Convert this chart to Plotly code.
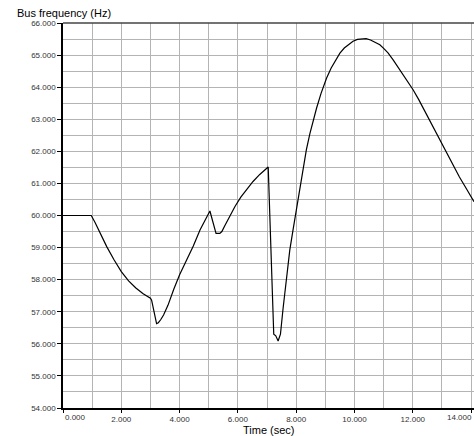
import plotly.graph_objects as go

# Simulated bus frequency response
time_s = [0.0, 0.97, 1.1, 1.25, 1.5, 1.75, 2.0, 2.25, 2.5, 2.75, 3.0, 3.04, 3.21,
          3.27, 3.35, 3.45, 3.6, 3.8, 4.0, 4.47, 4.7, 5.04, 5.25, 5.38, 5.45, 5.55,
          5.7, 5.9, 6.1, 6.3, 6.52, 6.75, 7.04, 7.23, 7.3, 7.38, 7.46, 7.55, 7.65,
          7.78, 7.9, 8.0, 8.12, 8.23, 8.35, 8.47, 8.58, 8.7, 8.85, 9.04, 9.2, 9.35,
          9.5, 9.65, 9.8, 9.95, 10.1, 10.25, 10.4, 10.55, 10.7, 10.87, 11.0, 11.15,
          11.32, 11.5, 11.65, 11.83, 12.01, 12.2, 12.35, 12.5, 12.7, 12.9, 13.15,
          13.4, 13.6, 13.85, 14.07, 14.1]
freq_hz = [60.0, 60.0, 59.78, 59.5, 59.03, 58.62, 58.25, 57.96, 57.74, 57.56, 57.42,
           57.36, 56.63, 56.66, 56.75, 56.9, 57.2, 57.7, 58.15, 59.05, 59.55, 60.14,
           59.44, 59.44, 59.5, 59.68, 59.95, 60.28, 60.57, 60.82, 61.06, 61.28, 61.51,
           56.3, 56.25, 56.09, 56.3, 57.1, 57.9, 58.92, 59.6, 60.15, 60.8, 61.45,
           62.05, 62.55, 62.98, 63.35, 63.8, 64.28, 64.6, 64.85, 65.06, 65.22, 65.34,
           65.43, 65.49, 65.51, 65.51, 65.47, 65.41, 65.32, 65.21, 65.07, 64.86,
           64.62, 64.42, 64.18, 63.92, 63.62, 63.36, 63.11, 62.77, 62.41, 61.94,
           61.52, 61.2, 60.82, 60.48, 60.43]

x_ticks = [0, 2, 4, 6, 8, 10, 12, 14]
y_ticks = [54, 55, 56, 57, 58, 59, 60, 61, 62, 63, 64, 65, 66]

FONT = "Liberation Sans, Arial, sans-serif"
GRID = "#b4b4b4"

fig = go.Figure()
fig.add_trace(go.Scatter(x=time_s, y=freq_hz, mode="lines",
                         line=dict(color="black", width=1.2), hoverinfo="skip"))

# end labels are placed as annotations so they sit inside the axis span
x_text = ["" if v in (x_ticks[0], x_ticks[-1]) else f"{v:.3f}" for v in x_ticks]

fig.update_layout(
    width=474, height=436,
    margin=dict(l=63, r=0, t=23, b=28),
    paper_bgcolor="white", plot_bgcolor="white",
    showlegend=False,
    font=dict(family=FONT, size=8, color="#333333"),
    xaxis=dict(range=[0, 14.1], tickvals=x_ticks, ticktext=x_text,
               showgrid=True, gridcolor=GRID, gridwidth=1,
               minor=dict(dtick=1, tick0=0, showgrid=True, gridcolor=GRID, gridwidth=1),
               showline=True, linecolor="black", linewidth=1.5,
               ticks="outside", ticklen=3, tickcolor="black",
               zeroline=False, tickfont=dict(size=8, color="#333333")),
    yaxis=dict(range=[54, 66], tickvals=y_ticks,
               ticktext=[f"{v:.3f}" for v in y_ticks],
               showgrid=True, gridcolor=GRID, gridwidth=1,
               minor=dict(dtick=0.5, tick0=54, showgrid=True, gridcolor=GRID, gridwidth=1),
               showline=True, linecolor="black", linewidth=1.5,
               ticks="outside", ticklen=4, tickcolor="black",
               zeroline=False, tickfont=dict(size=8, color="#333333")),
)

# top frame line
fig.add_shape(type="line", xref="paper", yref="paper", x0=0, x1=1, y0=1, y1=1,
              line=dict(color="#444444", width=1.5))

fig.add_annotation(x=x_ticks[0], y=0, xref="x", yref="paper", text=f"{x_ticks[0]:.3f}",
                   showarrow=False, xanchor="left", yanchor="top", yshift=-3,
                   font=dict(family=FONT, size=8, color="#333333"))
fig.add_annotation(x=1, y=0, xref="paper", yref="paper", text=f"{x_ticks[-1]:.3f}",
                   showarrow=False, xanchor="right", yanchor="top", yshift=-3,
                   font=dict(family=FONT, size=8, color="#333333"))

fig.add_annotation(x=0, y=1, xref="paper", yref="paper", text="Bus frequency (Hz)",
                   showarrow=False, xanchor="left", yanchor="middle",
                   xshift=-48, yshift=10, font=dict(family=FONT, size=11, color="black"))
fig.add_annotation(x=0.5, y=0, xref="paper", yref="paper", text="Time (sec)",
                   showarrow=False, xanchor="center", yanchor="top",
                   yshift=-14, font=dict(family=FONT, size=11, color="black"))

fig.write_html("out.html")
